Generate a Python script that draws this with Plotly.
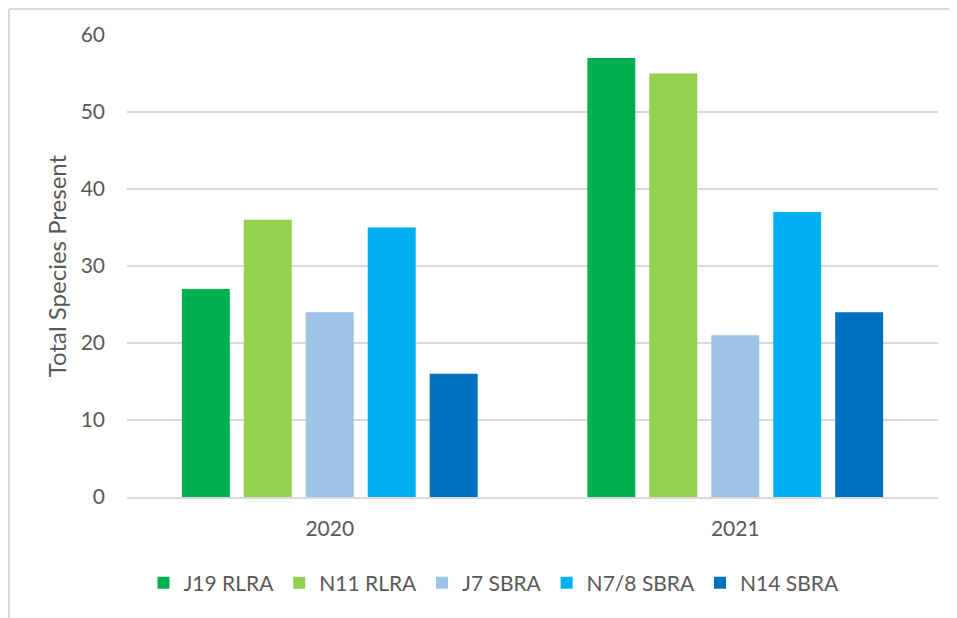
import plotly.graph_objects as go

years = ["2020", "2021"]
series_names = ["J19 RLRA", "N11 RLRA", "J7 SBRA", "N7/8 SBRA", "N14 SBRA"]
j19 = [27, 57]
n11 = [36, 55]
j7 = [24, 21]
n78 = [35, 37]
n14 = [16, 24]
values = [j19, n11, j7, n78, n14]
colors = ["#00B050", "#92D050", "#9DC3E6", "#00B0F0", "#0070C0"]
y_ticks = [0, 10, 20, 30, 40, 50, 60]

FONT = "Lato"
GRAY = "#595959"

fig = go.Figure()
for name, vals, col in zip(series_names, values, colors):
    fig.add_trace(go.Bar(x=years, y=vals, name=name, marker=dict(color=col, line=dict(width=0))))

# page body has an 8px margin, so the figure is placed at (8, 8) in the window
OFF = 8
W, H = 957 - OFF, 618 - OFF
L, R, T, B = 127 - OFF, 19, 35 - OFF, 121
pw, ph = W - L - R, H - T - B

def px(x):  # screen x -> paper x
    return (x - OFF - L) / pw

def py(y):  # screen y -> paper y
    return (H - B - (y - OFF)) / ph

fig.update_layout(
    width=W, height=H,
    margin=dict(l=L, r=R, t=T, b=B),
    plot_bgcolor="white", paper_bgcolor="white",
    barmode="group", bargap=0.236, bargroupgap=0.226,
    font=dict(family=FONT, color=GRAY, size=21),
    showlegend=True,
    legend=dict(orientation="h", x=px(494), xanchor="center", y=py(583), yanchor="middle",
                font=dict(family=FONT, size=21, color=GRAY), traceorder="normal",
                itemwidth=30),
    xaxis=dict(showgrid=False, showline=True, linecolor="#d9d9d9", linewidth=1.5,
               ticks="", tickfont=dict(size=21, color=GRAY), ticklabelstandoff=12),
    yaxis=dict(range=[0, 60], tickvals=y_ticks, showgrid=True, gridcolor="#d9d9d9", gridwidth=1.5,
               zeroline=False, showline=False, ticks="", ticklabelstandoff=21,
               tickfont=dict(size=21, color=GRAY),
               title=dict(text="Total Species Present", font=dict(size=24, color=GRAY), standoff=7)),
    shapes=[
        dict(type="line", xref="paper", yref="paper", x0=px(9), x1=px(9), y0=py(9), y1=py(640),
             line=dict(color="#d9d9d9", width=2)),
        dict(type="line", xref="paper", yref="paper", x0=px(9), x1=px(980), y0=py(9), y1=py(9),
             line=dict(color="#d9d9d9", width=2)),
    ],
)

fig.write_html("out.html")
